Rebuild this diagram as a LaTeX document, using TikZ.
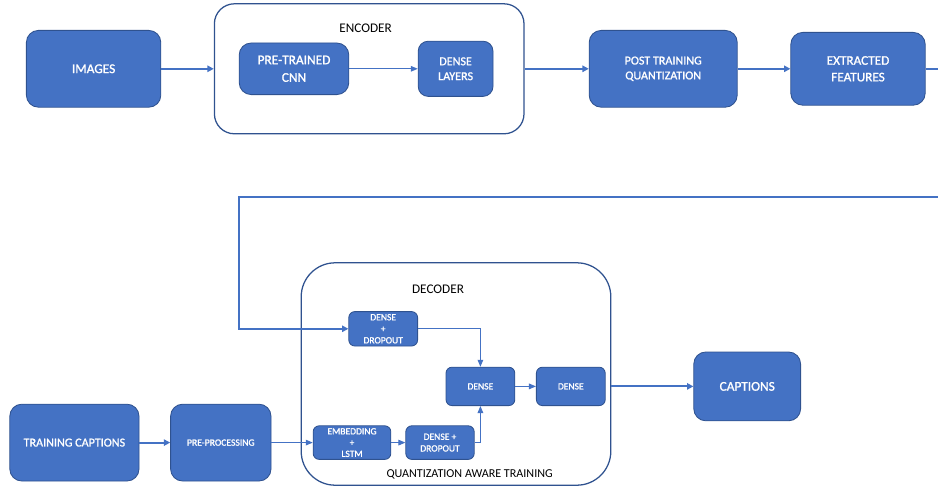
\documentclass[tikz,border=0pt]{standalone}
\usepackage{fontspec}
\setmainfont{Carlito}
\newfontfamily\boxfont[FakeBold=1.2]{Carlito}
\usepackage{tikz}
\usetikzlibrary{arrows.meta,positioning}

\definecolor{boxblue}{HTML}{4472C4}
\definecolor{edgeblue}{HTML}{2F528F}

\tikzset{
  block/.style={draw=edgeblue, fill=boxblue, text=white, align=center,
    rounded corners=0.3cm, line width=0.6pt, inner sep=0pt},
  smallblock/.style={block, rounded corners=0.15cm},
  group/.style={draw=edgeblue, line width=0.9pt, inner sep=0pt},
  flow/.style={draw=boxblue, line width=1.4pt, -{Triangle[length=4.5pt,width=4.5pt]}},
  thinflow/.style={draw=boxblue, line width=0.7pt, -{Triangle[length=5pt,width=4pt]}},
}
\newcommand{\fs}[2]{\boxfont\fontsize{#1}{#2}\selectfont}
\newcommand{\lfs}[1]{\fontsize{#1}{12}\selectfont}

\begin{document}
\begin{tikzpicture}
    \useasboundingbox (0,0) rectangle (23.45,12.15);

    % encoder row
    \node[block, minimum width=3.36cm, minimum height=1.92cm, font=\fs{9.5}{12}] (img) at (2.34,10.43) {IMAGES};
    \node[group, rounded corners=0.5cm, minimum width=7.74cm, minimum height=3.25cm] (enc) at (9.23,10.43) {};
    \node[font=\lfs{9.4}] (enclbl) at (9.14,11.44) {ENCODER};
    \node[block, minimum width=2.74cm, minimum height=1.29cm, font=\fs{9.5}{12.5}] (cnn) at (7.35,10.43) {PRE-TRAINED\\CNN};
    \node[block, rounded corners=0.25cm, minimum width=1.87cm, minimum height=1.38cm, font=\fs{8.6}{10.6}] (dl) at (11.39,10.43) {DENSE\\LAYERS};
    \node[block, minimum width=3.7cm, minimum height=1.92cm, font=\fs{8.6}{10.6}] (ptq) at (16.58,10.43) {POST TRAINING\\QUANTIZATION};
    \node[block, minimum width=3.36cm, minimum height=1.82cm, font=\fs{9.4}{11.8}] (feat) at (21.45,10.43) {EXTRACTED\\FEATURES};

    \coordinate (offr) at (23.8,7.23);
    \coordinate (loopl) at (5.98,7.23);

    % decoder part
    \node[group, rounded corners=0.85cm, minimum width=7.74cm, minimum height=5.56cm] (dec) at (11.4,2.8) {};
    \node[font=\lfs{9.4}] (declbl) at (10.95,4.93) {DECODER};
    \node[font=\lfs{8.6}] (qatlbl) at (11.74,0.29) {QUANTIZATION AWARE TRAINING};
    \node[smallblock, minimum width=1.72cm, minimum height=0.86cm, font=\fs{6.8}{8.2}] (dd1) at (9.58,3.93) {DENSE\\+\\DROPOUT};
    \node[smallblock, minimum width=1.72cm, minimum height=0.96cm, font=\fs{6.8}{8.2}] (dm) at (12.01,2.49) {DENSE};
    \node[smallblock, minimum width=1.72cm, minimum height=0.96cm, font=\fs{6.8}{8.2}] (dr) at (14.27,2.49) {DENSE};
    \node[smallblock, minimum width=1.94cm, minimum height=0.84cm, font=\fs{6.8}{8}] (emb) at (8.8,1.085) {EMBEDDING\\+\\LSTM};
    \node[smallblock, minimum width=1.71cm, minimum height=0.84cm, font=\fs{6.8}{8.3}] (dd2) at (11,1.085) {DENSE +\\DROPOUT};

    \node[block, minimum width=3.23cm, minimum height=1.92cm, font=\fs{8.6}{12}] (trc) at (1.86,1.085) {TRAINING CAPTIONS};
    \node[block, minimum width=2.51cm, minimum height=1.92cm, font=\fs{6.85}{9}] (prep) at (5.52,1.085) {PRE-PROCESSING};
    \node[block, minimum width=2.67cm, minimum height=1.72cm, font=\fs{9.5}{12}] (cap) at (18.68,2.49) {CAPTIONS};

    % connectors
    \draw[flow] (img) -- (enc);
    \draw[thinflow] (cnn) -- (dl);
    \draw[flow] (enc) -- (ptq);
    \draw[flow] (ptq) -- (feat);
    \draw[flow] (feat.east) -| (offr) -- (loopl) |- (dd1.west);

    \draw[flow] (trc) -- (prep);
    \draw[thinflow] (prep) -- (emb);
    \draw[thinflow] (emb) -- (dd2);
    \draw[thinflow] (dd2.east) -| (dm.south);
    \draw[thinflow] (dd1.east) -| (dm.north);
    \draw[thinflow] (dm) -- (dr);
    \draw[flow] (dec.east |- cap.west) -- (cap.west);
\end{tikzpicture}
\end{document}
